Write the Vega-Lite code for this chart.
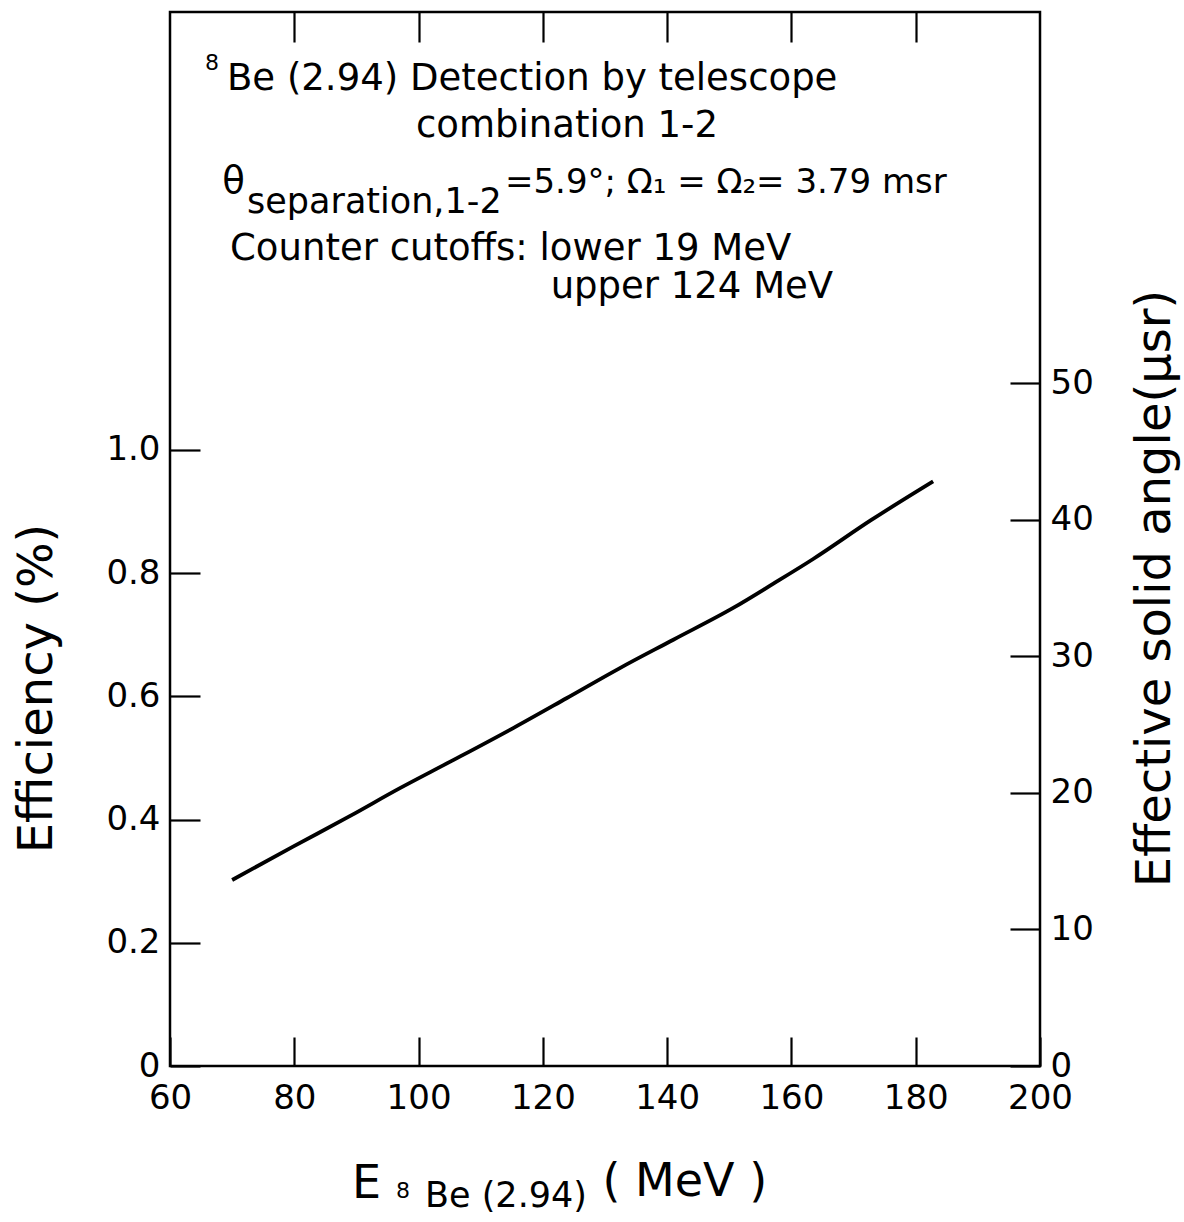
{
  "$schema": "https://vega.github.io/schema/vega-lite/v6.json",
  "width": 870,
  "height": 1054,
  "autosize": {"type": "none"},
  "padding": {"left": 170, "top": 12, "right": 144, "bottom": 156},
  "background": "white",
  "config": {
    "view": {"stroke": "black", "strokeWidth": 2.5},
    "font": "DejaVu Sans",
    "axis": {
      "domain": false,
      "grid": false,
      "tickColor": "black",
      "tickWidth": 2.2,
      "labelColor": "black",
      "titleColor": "black",
      "labelFont": "DejaVu Sans",
      "titleFont": "DejaVu Sans",
      "labelFontSize": 34,
      "titleFontWeight": "normal",
      "labelFlush": false,
      "labelOverlap": false
    }
  },
  "datasets": {
    "curve": [
      {"E": 70.0, "eff": 0.302},
      {"E": 79.8, "eff": 0.356},
      {"E": 89.0, "eff": 0.406},
      {"E": 97.0, "eff": 0.451},
      {"E": 105.1, "eff": 0.494},
      {"E": 115.3, "eff": 0.549},
      {"E": 123.8, "eff": 0.597},
      {"E": 132.4, "eff": 0.646},
      {"E": 141.0, "eff": 0.692},
      {"E": 150.7, "eff": 0.744},
      {"E": 157.1, "eff": 0.783},
      {"E": 163.5, "eff": 0.823},
      {"E": 172.8, "eff": 0.886},
      {"E": 182.8, "eff": 0.949}
    ],
    "notes": [
      {"part": "main", "text": "Be (2.94) Detection by telescope", "E": 69.17, "eff": 1.5844},
      {"part": "main", "text": "combination 1-2", "E": 99.59, "eff": 1.508},
      {"part": "main", "text": "θ", "E": 68.4, "eff": 1.417},
      {"part": "main", "text": "Counter cutoffs: lower 19 MeV", "E": 69.66, "eff": 1.3084},
      {"part": "main", "text": "upper 124 MeV", "E": 121.25, "eff": 1.2468},
      {"part": "eq", "text": "=5.9°; Ω₁ = Ω₂= 3.79 msr", "E": 113.9, "eff": 1.417},
      {"part": "sub", "text": "separation,1-2", "E": 72.4, "eff": 1.385},
      {"part": "sub", "text": "Be (2.94)", "E": 101.04, "eff": -0.2289},
      {"part": "sup", "text": "8", "E": 65.63, "eff": 1.6169},
      {"part": "sup", "text": "8", "E": 96.37, "eff": -0.2143},
      {"part": "title", "text": "E", "E": 89.29, "eff": -0.2143},
      {"part": "title", "text": "( MeV )", "E": 129.6, "eff": -0.211}
    ]
  },
  "layer": [
    {
      "data": {"name": "curve"},
      "mark": {"type": "line", "stroke": "black", "strokeWidth": 3.8, "interpolate": "monotone"},
      "encoding": {
        "x": {
          "field": "E", "type": "quantitative",
          "scale": {"domain": [60, 200], "nice": false, "zero": false},
          "axis": {
            "orient": "bottom", "values": [60, 80, 100, 120, 140, 160, 180, 200],
            "tickSize": -29, "labelPadding": 44, "title": null
          }
        },
        "y": {
          "field": "eff", "type": "quantitative",
          "scale": {"domain": [0, 1.711], "nice": false, "zero": false},
          "axis": {
            "orient": "left", "values": [0, 0.2, 0.4, 0.6, 0.8, 1.0],
            "labelExpr": "datum.value === 0 ? '0' : format(datum.value, '.1f')",
            "tickSize": -30, "labelPadding": 40,
            "title": "Efficiency (%)", "titleFontSize": 48,
            "titleAngle": 270, "titleX": -133, "titleY": 676,
            "titleBaseline": "middle", "titleAlign": "center"
          }
        }
      }
    },
    {
      "data": {"values": [{}]},
      "mark": {"type": "rule", "opacity": 0},
      "encoding": {
        "x": {
          "datum": 100, "type": "quantitative",
          "scale": {"domain": [60, 200], "nice": false, "zero": false},
          "axis": {
            "orient": "top", "values": [80, 100, 120, 140, 160, 180],
            "tickSize": -30, "labels": false, "title": null
          }
        }
      }
    },
    {
      "data": {"values": [{}]},
      "mark": {"type": "rule", "opacity": 0},
      "encoding": {
        "y": {
          "datum": 0, "type": "quantitative",
          "scale": {"domain": [0, 77.16], "nice": false, "zero": false},
          "axis": {
            "orient": "right", "values": [0, 10, 20, 30, 40, 50],
            "tickSize": -30, "labelPadding": 40,
            "title": "Effective solid angle(μsr)", "titleFontSize": 48,
            "titleAngle": 270, "titleX": 115, "titleY": 576,
            "titleBaseline": "middle", "titleAlign": "center"
          }
        }
      }
    },
    {
      "data": {"name": "notes"},
      "transform": [{"filter": "datum.part === 'main'"}],
      "mark": {"type": "text", "align": "left", "baseline": "alphabetic", "font": "DejaVu Sans", "fontSize": 37, "color": "black"},
      "encoding": {
        "x": {"field": "E", "type": "quantitative", "scale": {"domain": [60, 200], "nice": false, "zero": false}, "axis": null},
        "y": {"field": "eff", "type": "quantitative", "scale": {"domain": [0, 1.711], "nice": false, "zero": false}, "axis": null},
        "text": {"field": "text"}
      }
    },
    {
      "data": {"name": "notes"},
      "transform": [{"filter": "datum.part === 'eq'"}],
      "mark": {"type": "text", "align": "left", "baseline": "alphabetic", "font": "DejaVu Sans", "fontSize": 34, "color": "black"},
      "encoding": {
        "x": {"field": "E", "type": "quantitative", "scale": {"domain": [60, 200], "nice": false, "zero": false}, "axis": null},
        "y": {"field": "eff", "type": "quantitative", "scale": {"domain": [0, 1.711], "nice": false, "zero": false}, "axis": null},
        "text": {"field": "text"}
      }
    },
    {
      "data": {"name": "notes"},
      "transform": [{"filter": "datum.part === 'sub'"}],
      "mark": {"type": "text", "align": "left", "baseline": "alphabetic", "font": "DejaVu Sans", "fontSize": 35, "color": "black"},
      "encoding": {
        "x": {"field": "E", "type": "quantitative", "scale": {"domain": [60, 200], "nice": false, "zero": false}, "axis": null},
        "y": {"field": "eff", "type": "quantitative", "scale": {"domain": [0, 1.711], "nice": false, "zero": false}, "axis": null},
        "text": {"field": "text"}
      }
    },
    {
      "data": {"name": "notes"},
      "transform": [{"filter": "datum.part === 'sup'"}],
      "mark": {"type": "text", "align": "left", "baseline": "alphabetic", "font": "DejaVu Sans", "fontSize": 22, "color": "black"},
      "encoding": {
        "x": {"field": "E", "type": "quantitative", "scale": {"domain": [60, 200], "nice": false, "zero": false}, "axis": null},
        "y": {"field": "eff", "type": "quantitative", "scale": {"domain": [0, 1.711], "nice": false, "zero": false}, "axis": null},
        "text": {"field": "text"}
      }
    },
    {
      "data": {"name": "notes"},
      "transform": [{"filter": "datum.part === 'title'"}],
      "mark": {"type": "text", "align": "left", "baseline": "alphabetic", "font": "DejaVu Sans", "fontSize": 46, "color": "black"},
      "encoding": {
        "x": {"field": "E", "type": "quantitative", "scale": {"domain": [60, 200], "nice": false, "zero": false}, "axis": null},
        "y": {"field": "eff", "type": "quantitative", "scale": {"domain": [0, 1.711], "nice": false, "zero": false}, "axis": null},
        "text": {"field": "text"}
      }
    }
  ],
  "resolve": {"scale": {"y": "independent"}, "axis": {"x": "independent", "y": "independent"}}
}
